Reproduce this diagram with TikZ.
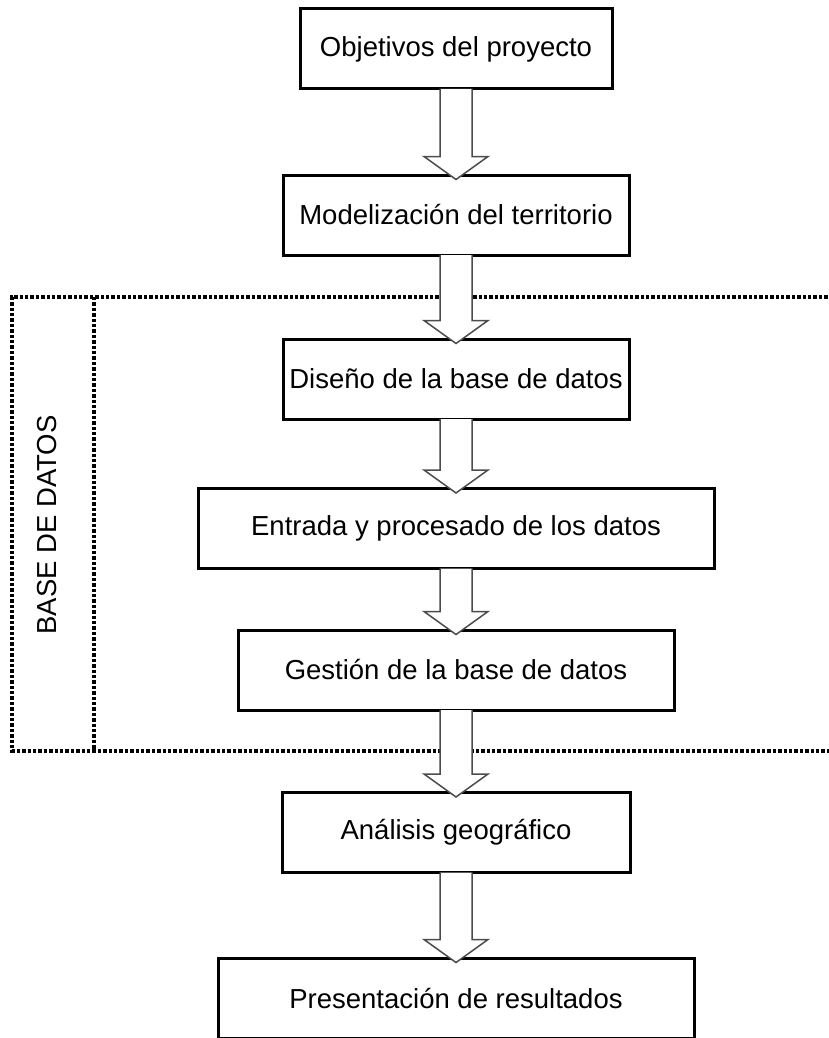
\documentclass[tikz,border=0pt]{standalone}
\usepackage{fontspec}
\setmainfont{Liberation Sans}
\usetikzlibrary{calc}
\tikzset{
  caja/.style={draw, line width=3pt, fill=white, minimum height=80pt, inner sep=0pt,
    font=\fontsize{27.5}{33}\selectfont},
  punteado/.style={line width=3.2pt, dash pattern=on 3.4pt off 2pt},
  flecha/.style={draw=black!70, line width=1.5pt, fill=white}
}
% flecha de bloque entre dos cajas
\newcommand{\flechabloque}[2]{%
  \path[flecha] let \p1=(#1.south), \p2=(#2.north) in
    (\x1-16pt,\y1+1.5pt) -- (\x1-16pt,\y2+17pt) -- (\x1-32pt,\y2+17pt)
    -- (\x1,\y2-6pt) -- (\x1+32pt,\y2+17pt) -- (\x1+16pt,\y2+17pt)
    -- (\x1+16pt,\y1+1.5pt);
}
\begin{document}
\begin{tikzpicture}[x=1pt,y=-1pt]
    \useasboundingbox (0,0) rectangle (828,1038);
    % marco de la base de datos
    \draw[punteado] (860,297) -- (12,297) -- (12,751) -- (860,751);
    \draw[punteado] (94,297) -- (94,751);
    \node[rotate=90, font=\fontsize{27.5}{33}\selectfont] (bd) at (47,525) {BASE DE DATOS};
    % cajas
    \node[caja, minimum width=312pt] (obj) at (456,49) {Objetivos del proyecto};
    \node[caja, minimum width=346pt] (mod) at (456,215) {Modelización del territorio};
    \node[caja, minimum width=346pt] (dis) at (456,379) {Diseño de la base de datos};
    \node[caja, minimum width=516pt] (ent) at (456,528.5) {Entrada y procesado de los datos};
    \node[caja, minimum width=436pt] (ges) at (456,670) {Gestión de la base de datos};
    \node[caja, minimum width=348pt] (ana) at (456,832.5) {Análisis geográfico};
    \node[caja, minimum width=476pt] (pre) at (456,998) {Presentación de resultados};
    % flechas
    \flechabloque{obj}{mod}
    \flechabloque{mod}{dis}
    \flechabloque{dis}{ent}
    \flechabloque{ent}{ges}
    \flechabloque{ges}{ana}
    \flechabloque{ana}{pre}
\end{tikzpicture}
\end{document}
